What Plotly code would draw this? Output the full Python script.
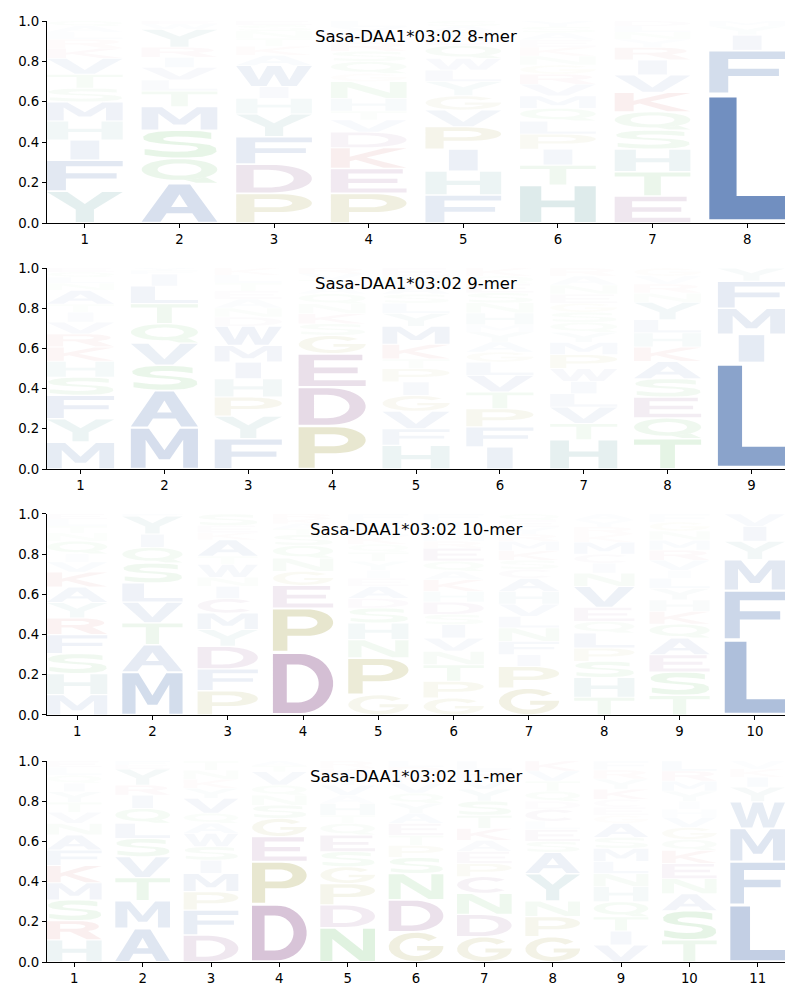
import numpy as np
import plotly.graph_objects as go

# ---------------- data ----------------
TITLES = ["Sasa-DAA1*03:02 8-mer", "Sasa-DAA1*03:02 9-mer",
          "Sasa-DAA1*03:02 10-mer", "Sasa-DAA1*03:02 11-mer"]

# letters listed bottom -> top, with their stacked heights
MER8_LETTERS = ["YFIHMSTVKRLAQ", "AQSMTLVIRYWE", "PDFYHIWAKTNSE", "PEKDVTHNGQSRAYL",
                "FHIPVGYLWQDEAS", "HTIPLQMVRGNKEASY", "ETHSQKVIRYNLD", "LFIYM"]
MER8_HEIGHTS = [
    [.158, .154, .099, .094, .095, .067, .069, .079, .05, .045, .035, .03, .025],
    [.196, .124, .14, .116, .077, .055, .062, .05, .05, .09, .025, .015],
    [.147, .145, .135, .113, .077, .058, .105, .05, .045, .04, .035, .03, .02],
    [.147, .123, .103, .077, .06, .044, .063, .083, .04, .06, .05, .045, .04, .035, .03],
    [.139, .118, .109, .111, .082, .071, .07, .057, .058, .065, .035, .03, .03, .025],
    [.188, .099, .079, .074, .065, .063, .061, .058, .05, .045, .045, .045, .035, .035, .03, .028],
    [.134, .12, .112, .094, .091, .096, .086, .074, .063, .04, .035, .03, .025],
    [.64, .215, .075, .045, .025],
]

MER9_LETTERS = ["MYFSHKRVITANLQE", "MASVQTLIFY", "FYPHIMWDNAETLK", "PDEGSKNQATVR",
                "HFVGIPTKMYLSANE", "IFPTVLGAYMHNSEQK", "HTVLIWPMYQSGENAR", "TQESAKHLYNRVG",
                "LIMFY"]
MER9_HEIGHTS = [
    [.134, .116, .117, .09, .079, .071, .066, .058, .049, .04, .069, .035, .03, .025, .021],
    [.206, .185, .125, .111, .096, .1, .087, .06, .018, .012],
    [.151, .113, .094, .091, .083, .083, .095, .046, .045, .045, .04, .04, .04, .034],
    [.214, .194, .166, .091, .058, .05, .049, .05, .035, .035, .03, .028],
    [.118, .082, .087, .079, .067, .067, .047, .073, .09, .065, .05, .045, .045, .045, .04],
    [.11, .1, .09, .083, .083, .066, .05, .05, .05, .035, .06, .05, .05, .045, .038, .04],
    [.146, .08, .082, .067, .061, .064, .069, .061, .05, .05, .05, .045, .045, .045, .045, .04],
    [.151, .103, .104, .091, .086, .072, .07, .066, .087, .045, .045, .04, .04],
    [.53, .14, .13, .135, .065],
]

MER10_LETTERS = ["MHSFRYAKVIQNTLE", "MATVLSQIYF", "PFDYMCINWTAKES", "DPEGNQSTAKR",
                 "GPNHSDAEIYTQKLVF", "GPTNVISDHKAQERMLYF", "GPIFNLVHACSKMRYEQ",
                 "THSPLQEVNICMKRYA", "TSEAQKHYLIVRMNGF", "LFMYIV"]
MER10_HEIGHTS = [
    [.101, .105, .099, .095, .083, .077, .077, .074, .05, .04, .064, .04, .035, .035, .026],
    [.214, .136, .108, .104, .095, .099, .078, .066, .09, .01],
    [.121, .108, .113, .083, .082, .072, .061, .045, .065, .04, .082, .035, .035, .058],
    [.313, .219, .113, .07, .065, .064, .053, .03, .025, .025, .023],
    [.101, .183, .091, .083, .074, .048, .06, .04, .04, .045, .045, .04, .04, .04, .038, .032],
    [.085, .083, .082, .067, .066, .067, .05, .062, .053, .058, .042, .05, .065, .034, .035, .035, .035, .031],
    [.134, .108, .058, .066, .067, .058, .06, .064, .065, .045, .045, .047, .047, .035, .035, .035, .031],
    [.088, .099, .08, .066, .075, .058, .069, .105, .066, .049, .045, .06, .04, .035, .035, .03],
    [.098, .116, .086, .083, .069, .063, .058, .057, .05, .04, .05, .05, .05, .045, .045, .04],
    [.375, .245, .153, .091, .075, .061],
]

MER11_LETTERS = ["HRSMKFANVTYIQLE", "AMTVSLQIRYEF", "DFPMISWAQVYKNT", "DPEGSNQVTA",
                 "NDPGSEQTHAVYKR", "GDNSPTEAYQVKRL", "GDNCPEAKTSYVRL", "GPNYASELCDQTVK",
                 "VITQHNLMSAGECKYRF", "TSANEKQGVHIYMRL", "LFMWYIKV"]
MER11_HEIGHTS = [
    [.11, .096, .103, .085, .086, .077, .075, .058, .055, .05, .052, .042, .04, .04, .031],
    [.167, .138, .115, .104, .091, .075, .074, .066, .05, .08, .02, .02],
    [.134, .125, .091, .091, .066, .067, .066, .05, .05, .074, .05, .045, .045, .046],
    [.289, .211, .124, .091, .065, .05, .05, .067, .03, .023],
    [.171, .113, .106, .084, .075, .083, .058, .04, .059, .04, .05, .045, .041, .035],
    [.15, .16, .13, .08, .06, .05, .06, .05, .05, .05, .05, .04, .04, .03],
    [.126, .111, .105, .083, .065, .06, .055, .06, .065, .07, .06, .05, .045, .045],
    [.126, .1, .077, .137, .106, .054, .06, .04, .06, .04, .05, .05, .05, .05],
    [.085, .069, .071, .075, .075, .065, .06, .065, .055, .07, .04, .04, .04, .05, .05, .045, .045],
    [.11, .145, .085, .075, .075, .065, .055, .06, .05, .04, .04, .05, .05, .05, .05],
    [.285, .215, .165, .132, .073, .05, .04, .04],
]

PANELS = [(MER8_LETTERS, MER8_HEIGHTS), (MER9_LETTERS, MER9_HEIGHTS),
          (MER10_LETTERS, MER10_HEIGHTS), (MER11_LETTERS, MER11_HEIGHTS)]
Y_TICKS = [0.0, 0.2, 0.4, 0.6, 0.8, 1.0]

# ---------------- style ----------------
COLORS = {}
for aa in "AVLIMFW":
    COLORS[aa] = (76, 114, 176)
for aa in "HY":
    COLORS[aa] = (95, 158, 160)
for aa in "PG":
    COLORS[aa] = (160, 156, 60)
for aa in "DEC":
    COLORS[aa] = (140, 82, 140)
for aa in "KR":
    COLORS[aa] = (196, 78, 82)
for aa in "STNQ":
    COLORS[aa] = (92, 184, 92)


def arc(cx, cy, rx, ry, a0, a1, n=22):
    t = np.radians(np.linspace(a0, a1, n))
    return [(cx + rx * np.cos(v), cy + ry * np.sin(v)) for v in t]


GLYPHS = {
    'A': [[(0, 0), (0.36, 1), (0.64, 1), (1, 0), (0.75, 0), (0.67, 0.23), (0.33, 0.23), (0.25, 0)],
          [(0.39, 0.40), (0.61, 0.40), (0.5, 0.74)]],
    'C': [arc(0.5, 0.5, 0.5, 0.5, 42, 318) + arc(0.5, 0.5, 0.29, 0.31, 318, 42)],
    'D': [[(0, 0), (0, 1), (0.45, 1)] + arc(0.45, 0.5, 0.55, 0.5, 90, -90),
          [(0.23, 0.18), (0.23, 0.82), (0.42, 0.82)] + arc(0.42, 0.5, 0.34, 0.32, 90, -90)],
    'E': [[(0, 0), (0, 1), (0.95, 1), (0.95, 0.82), (0.23, 0.82), (0.23, 0.59), (0.88, 0.59),
           (0.88, 0.41), (0.23, 0.41), (0.23, 0.18), (1, 0.18), (1, 0)]],
    'F': [[(0, 0), (0, 1), (1, 1), (1, 0.82), (0.25, 0.82), (0.25, 0.58), (0.92, 0.58),
           (0.92, 0.40), (0.25, 0.40), (0.25, 0)]],
    'G': [arc(0.5, 0.5, 0.5, 0.5, 40, 355) + [(1, 0.53), (0.52, 0.53), (0.52, 0.37), (0.79, 0.37)]
          + arc(0.5, 0.5, 0.3, 0.32, 335, 40)],
    'H': [[(0, 0), (0, 1), (0.28, 1), (0.28, 0.6), (0.72, 0.6), (0.72, 1), (1, 1), (1, 0),
           (0.72, 0), (0.72, 0.41), (0.28, 0.41), (0.28, 0)]],
    'I': [[(0.31, 0), (0.31, 1), (0.69, 1), (0.69, 0)]],
    'K': [[(0, 0), (0, 1), (0.25, 1), (0.25, 0.57), (0.7, 1), (1, 1), (0.47, 0.53), (1, 0),
           (0.7, 0), (0.33, 0.42), (0.25, 0.34), (0.25, 0)]],
    'L': [[(0, 0), (0, 1), (0.36, 1), (0.36, 0.19), (1, 0.19), (1, 0)]],
    'M': [[(0, 0), (0, 1), (0.27, 1), (0.5, 0.45), (0.73, 1), (1, 1), (1, 0), (0.78, 0),
           (0.78, 0.72), (0.58, 0.22), (0.42, 0.22), (0.22, 0.72), (0.22, 0)]],
    'N': [[(0, 0), (0, 1), (0.27, 1), (0.78, 0.32), (0.78, 1), (1, 1), (1, 0), (0.73, 0),
           (0.22, 0.68), (0.22, 0)]],
    'P': [[(0, 0), (0, 1), (0.55, 1)] + arc(0.55, 0.68, 0.45, 0.32, 90, -90) + [(0.24, 0.36), (0.24, 0)],
          [(0.24, 0.53), (0.24, 0.83), (0.5, 0.83)] + arc(0.5, 0.68, 0.24, 0.15, 90, -90)],
    'Q': [arc(0.5, 0.56, 0.5, 0.44, 0, 360, 40), arc(0.5, 0.56, 0.29, 0.26, 0, 360, 40),
          arc(0.5, 0.56, 0.5, 0.44, -83, -47, 8) + [(1, 0), (0.72, 0)]],
    'R': [[(0, 0), (0, 1), (0.55, 1)] + arc(0.55, 0.71, 0.4, 0.29, 90, -60)
          + [(1, 0), (0.73, 0), (0.42, 0.42), (0.24, 0.42), (0.24, 0)],
          [(0.24, 0.58), (0.24, 0.84), (0.5, 0.84)] + arc(0.5, 0.71, 0.2, 0.13, 90, -90)],
    'S': [[(0.92, 0.93), (0.78, 0.985), (0.6, 1.0), (0.4, 1.0), (0.22, 0.97), (0.09, 0.9), (0.02, 0.79),
           (0.03, 0.67), (0.1, 0.59), (0.25, 0.53), (0.45, 0.485), (0.62, 0.45), (0.72, 0.41),
           (0.75, 0.34), (0.71, 0.27), (0.6, 0.225), (0.45, 0.215), (0.28, 0.24), (0.1, 0.3),
           (0.04, 0.31), (0.04, 0.1), (0.2, 0.035), (0.4, 0.0), (0.6, 0.0), (0.8, 0.03), (0.93, 0.11),
           (0.99, 0.22), (0.98, 0.37), (0.9, 0.47), (0.75, 0.53), (0.55, 0.575), (0.38, 0.61),
           (0.3, 0.65), (0.28, 0.71), (0.33, 0.765), (0.45, 0.79), (0.6, 0.785), (0.78, 0.745),
           (0.92, 0.7)]],
    'T': [[(0, 1), (1, 1), (1, 0.82), (0.61, 0.82), (0.61, 0), (0.39, 0), (0.39, 0.82), (0, 0.82)]],
    'V': [[(0, 1), (0.26, 1), (0.5, 0.26), (0.74, 1), (1, 1), (0.63, 0), (0.37, 0)]],
    'W': [[(0, 1), (0.19, 1), (0.3, 0.3), (0.41, 1), (0.59, 1), (0.7, 0.3), (0.81, 1), (1, 1),
           (0.8, 0), (0.6, 0), (0.5, 0.6), (0.4, 0), (0.2, 0)]],
    'Y': [[(0, 1), (0.27, 1), (0.5, 0.6), (0.73, 1), (1, 1), (0.62, 0.42), (0.62, 0), (0.38, 0),
           (0.38, 0.42)]],
}

WIDTH = 0.8
VPAD = 0.03


def glyph_path(letter, xc, y0, h):
    x0 = xc - WIDTH / 2
    gy0 = y0 + h * VPAD
    gh = h * (1 - 2 * VPAD)
    parts = []
    for poly in GLYPHS[letter]:
        pts = ["%.4f,%.5f" % (x0 + px * WIDTH, gy0 + py * gh) for px, py in poly]
        parts.append("M" + " L".join(pts) + " Z")
    return " ".join(parts)


def alpha_for(h):
    return float(min(0.9, max(0.015, 1.3 * h - 0.035)))


# ---------------- figure ----------------
fig = go.Figure()
domains = [(0.7853, 1.0), (0.5239, 0.7375), (0.2625, 0.4761), (0.0, 0.2136)]
shapes = []
annotations = []
layout = {}
for i, (letters, heights) in enumerate(PANELS):
    k = i + 1
    xs = "" if k == 1 else str(k)
    n = len(letters)
    for p in range(n):
        y = 0.0
        for aa, h in zip(letters[p], heights[p]):
            r, g, b = COLORS[aa]
            shapes.append(dict(type="path", xref="x" + xs, yref="y" + xs,
                               path=glyph_path(aa, p + 1, y, h),
                               fillcolor="rgba(%d,%d,%d,%.3f)" % (r, g, b, alpha_for(h)),
                               line=dict(width=0), fillrule="evenodd", layer="above"))
            y += h
    # invisible trace to bind axes
    fig.add_trace(go.Scatter(x=[1, n], y=[0, 0], mode="markers", marker=dict(opacity=0),
                             hoverinfo="skip", showlegend=False,
                             xaxis="x" + xs, yaxis="y" + xs))
    layout["xaxis" + xs] = dict(domain=[0, 1], anchor="y" + xs, range=[0.6, n + 0.4],
                                tickmode="array", tickvals=list(range(1, n + 1)),
                                ticktext=[str(v) for v in range(1, n + 1)],
                                showline=True, linecolor="black", linewidth=1.1,
                                ticks="outside", ticklen=4, tickwidth=1, tickcolor="black",
                                showgrid=False, zeroline=False, fixedrange=True)
    layout["yaxis" + xs] = dict(domain=list(domains[i]), anchor="x" + xs, range=[0, 1],
                                tickmode="array", tickvals=Y_TICKS,
                                ticktext=["%.1f" % v for v in Y_TICKS],
                                showline=True, linecolor="black", linewidth=1.1,
                                ticks="outside", ticklen=4, tickwidth=1, tickcolor="black",
                                showgrid=False, zeroline=False, fixedrange=True)
    annotations.append(dict(text=TITLES[i], xref="x" + xs + " domain", yref="y" + xs + " domain",
                            x=0.5, y=0.925, xanchor="center", yanchor="middle", showarrow=False,
                            font=dict(size=16.5, color="black", family="DejaVu Sans")))

fig.update_layout(**layout)
fig.update_layout(width=800, height=1000, margin=dict(l=47, r=15, t=21, b=38),
                  paper_bgcolor="white", plot_bgcolor="white",
                  font=dict(family="DejaVu Sans", size=13.3, color="black"),
                  shapes=shapes, annotations=annotations, showlegend=False)
fig.write_html("out.html")
